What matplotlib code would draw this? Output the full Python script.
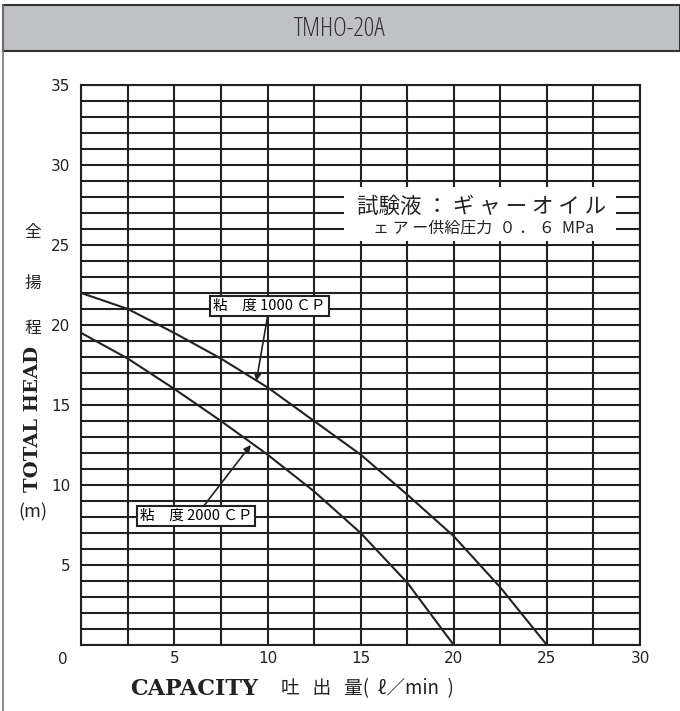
import numpy as np
import matplotlib.pyplot as plt
from matplotlib.patches import Rectangle

flow = [0, 2.5, 5, 7.5, 10, 12.5, 15, 17.5, 20, 22.5, 25]
head_1000cp = [22.0, 21.0, 19.5, 17.9, 16.1, 14.0, 11.9, 9.4, 6.8, 3.6, 0.0]
flow_2000 = [0, 2.5, 5, 7.5, 10, 12.5, 15, 17.5, 20]
head_2000cp = [19.5, 17.9, 16.0, 14.0, 11.9, 9.6, 7.0, 3.9, 0.0]

title = "TMHO-20A"
label_1000 = "粘\u3000度 1000 ＣＰ"
label_2000 = "粘\u3000度 2000 ＣＰ"
note1 = "試験液 ： ギ ャ ー オ イ ル"
note2 = "ェ ア ー供給圧力  ０ ． ６  MPa"

JP = ['Noto Sans CJK JP', 'DejaVu Sans']
SERIF = ['DejaVu Serif']
INK = '#222222'

W, H = 680, 711


def fx(px):
    return px / W


def fy(py):
    return 1 - py / H


def main():
    fig = plt.figure(figsize=(6.8, 7.11), dpi=100)

    # title bar + outer frame
    fig.patches.append(Rectangle((fx(3), fy(51)), 1 - fx(3), fy(5) - fy(51),
                                 transform=fig.transFigure, facecolor='#c0c1c5',
                                 edgecolor='#333333', lw=1.5, zorder=0))
    fig.add_artist(plt.Line2D([fx(3), fx(3)], [0, fy(5)], transform=fig.transFigure,
                              color='#777777', lw=1.2))
    fig.text(0.5, fy(29), title, ha='center', va='center', fontsize=19,
             family='Open Sans', color='#333333', stretch='condensed')

    ax = fig.add_axes([fx(81.3), fy(645), fx(640) - fx(81.3), fy(85) - fy(645)])
    ax.set_xlim(0, 30)
    ax.set_ylim(0, 35)

    xt = np.arange(0, 30.01, 2.5)
    ax.set_xticks(xt)
    ax.set_xticklabels([('%d' % v) if (v % 5 == 0 and v > 0) else '' for v in xt])
    yt = np.arange(0, 36, 1)
    ax.set_yticks(yt)
    ax.set_yticklabels([('%d' % v) if (v % 5 == 0 and v > 0) else '' for v in yt])
    ax.tick_params(length=0, labelsize=11, colors=INK)
    ax.tick_params(axis='x', pad=4)
    ax.tick_params(axis='y', pad=8)
    ax.grid(True, color=INK, lw=1.5)
    ax.set_axisbelow(True)
    for s in ax.spines.values():
        s.set_color(INK)
        s.set_linewidth(1.5)
    ax.text(-0.025, -0.012, '0', transform=ax.transAxes, ha='right', va='top',
            fontsize=11, color=INK)

    ax.plot(flow, head_1000cp, color=INK, lw=1.5, zorder=3)
    ax.plot(flow_2000, head_2000cp, color=INK, lw=1.5, zorder=3)

    box = dict(boxstyle='square,pad=0.2', facecolor='white', edgecolor=INK, lw=1.5)
    arrow = dict(arrowstyle='-|>', color=INK, lw=1.2, mutation_scale=10,
                 shrinkA=0, shrinkB=0)
    ax.annotate(label_1000, xy=(9.4, 16.5), xytext=(10.1, 21.2), ha='center',
                va='center', fontsize=10.5, family=JP, bbox=box,
                arrowprops=arrow, zorder=5)
    ax.annotate(label_2000, xy=(9.1, 12.5), xytext=(6.15, 8.05), ha='center',
                va='center', fontsize=10.5, family=JP, bbox=box,
                arrowprops=arrow, zorder=5)

    # test-fluid note on white patch
    ax.add_patch(Rectangle((14.1, 25.25), 14.6, 3.35, facecolor='white',
                           edgecolor='none', zorder=4))
    ax.text(21.5, 27.4, note1, ha='center', va='center', fontsize=15.5,
            family=JP, color=INK, zorder=5)
    ax.text(21.6, 26.05, note2, ha='center', va='center', fontsize=11.5,
            family=JP, color=INK, zorder=5)

    # axis titles
    for ch, py in zip('全揚程', (232, 283, 328)):
        fig.text(fx(33), fy(py), ch, ha='center', va='center', fontsize=12,
                 family=JP, color=INK)
    fig.text(fx(33), fy(419), 'TOTAL HEAD', rotation=90, ha='center', va='center',
             fontsize=14, family=SERIF, fontweight='bold', color=INK)
    fig.text(fx(33), fy(512), '(m)', ha='center', va='center', fontsize=13,
             family=JP, color=INK)

    fig.text(fx(130), fy(689), 'CAPACITY', ha='left', va='center', fontsize=16,
             family=SERIF, fontweight='bold', color=INK)
    fig.text(fx(281), fy(689), '吐   出   量(  ℓ／min  )', ha='left', va='center',
             fontsize=13.5, family=JP, color=INK)

    fig.savefig('out.png', dpi=100)


if __name__ == "__main__":
    main()
